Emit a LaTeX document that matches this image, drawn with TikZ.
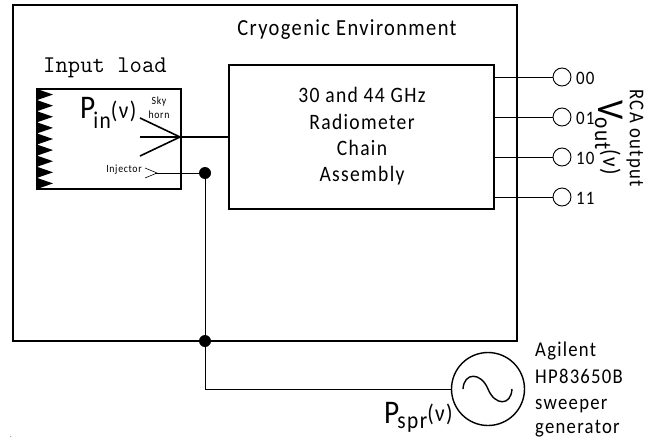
\documentclass[tikz,border=0pt]{standalone}
\usepackage{fontspec}
\setmainfont[LetterSpace=6,FakeStretch=0.89]{Carlito}
\setmonofont{Latin Modern Mono}
\newcommand{\lbl}[1]{\fontsize{#1}{#1}\selectfont}
% size, letter, subscript, drop of the subscript, drop of the bracket
\newcommand{\sigtext}[5]{\lbl{#1}#2\kern-2pt\raisebox{-#4pt}{\lbl{24}#3}\raisebox{-#5pt}{\lbl{24}(ν)}}
\tikzset{
  box/.style={draw, line width=1.6pt},
  wire/.style={line width=0.9pt},
  thickwire/.style={line width=1.6pt},
  port/.style={draw, circle, line width=0.9pt, inner sep=0pt, minimum size=18pt},
  junction/.style={fill, circle, inner sep=0pt, minimum size=12pt},
  txt/.style={inner sep=0pt}
}
\begin{document}
\begin{tikzpicture}[x=1pt,y=-1pt]
  \useasboundingbox (0,0) rectangle (645,444);
  \draw[box] (13,5) rectangle (517,341);
  \draw[box] (37,89) rectangle (181,189);
  \draw[box] (229,65) rectangle (494,209);
  \coordinate (chain) at (229,137);
  % absorber teeth
  \foreach \i in {0,...,8}
    \fill (37,{89+\i*11.11}) -- (53,{89+\i*11.11+5.55}) -- (37,{89+(\i+1)*11.11}) -- cycle;
  % horn
  \coordinate (tip) at (180,137);
  \coordinate (hornup) at (140,118);
  \coordinate (hornmid) at (140,137);
  \coordinate (horndown) at (140,156);
  \draw[thickwire] (hornup) -- (tip) -- (horndown);
  \draw[thickwire] (hornmid) -- (tip) -- (chain);
  % injector
  \coordinate (injtip) at (157,173);
  \coordinate (injup) at (145,168);
  \coordinate (injdown) at (145,178);
  \draw[line width=0.6pt] (injup) -- (injtip) -- (injdown);
  \node[junction] (j1) at (205,173) {};
  \node[junction] (j2) at (205,341) {};
  \node[draw, circle, line width=1.4pt, inner sep=0pt, minimum size=73pt] (gen) at (488,389) {};
  \draw[wire] (155,173) -- (j1);
  \draw[wire] (j1) -- (j2);
  \draw[wire] (j2) |- (gen);
  % sine
  \draw[line width=1.4pt] (463,389) .. controls (464,372) and (481,372) .. (488,389)
    .. controls (495,406) and (511,406) .. (512,389);
  % outputs
  \foreach \name/\y in {00/77,01/117,10/157,11/197} {
    \node[port] (p\name) at (562,\y) {};
    \draw[wire] (494,\y) -- (p\name);
    \node[txt, anchor=west] at (576,\y+1) {\lbl{19}\name};
  }
  \node[txt, anchor=base] (title) at (347,36) {\lbl{23}Cryogenic Environment};
  \node[txt] (inputload) at (105,68) {\lbl{24}\ttfamily Input load};
  \node[txt, anchor=base west] (pin) at (80,118) {\sigtext{33}{P}{in}{10}{0}};
  \node[txt] (sky) at (159,102) {\lbl{11}Sky};
  \node[txt] (horn) at (159,115) {\lbl{11}horn};
  \node[txt] (inj) at (124,170) {\lbl{11}Injector};
  \node[txt, anchor=base] (line1) at (362,102) {\lbl{22}30 and 44 GHz};
  \node[txt, anchor=base] (line2) at (362,129) {\lbl{22}Radiometer};
  \node[txt, anchor=base] (line3) at (362,155) {\lbl{22}Chain};
  \node[txt, anchor=base] (line4) at (362,181) {\lbl{22}Assembly};
  \node[txt, anchor=base west, rotate=-90] (vout) at (598,100) {\sigtext{38}{V}{out}{3}{-5}};
  \node[txt, rotate=-90] (rca) at (635,138) {\lbl{21}RCA output};
  \node[txt, anchor=base west] (pspr) at (384,423) {\sigtext{33}{P}{spr}{5}{-2}};
  \node[txt, anchor=base west] (ag1) at (535,356) {\lbl{21}Agilent};
  \node[txt, anchor=base west] (ag2) at (535,383) {\lbl{21}HP83650B};
  \node[txt, anchor=base west] (ag3) at (535,409) {\lbl{21}sweeper};
  \node[txt, anchor=base west] (ag4) at (535,433) {\lbl{21}generator};
  \node[txt, anchor=base] (speck) at (11,437) {\lbl{7}.};
\end{tikzpicture}
\end{document}
